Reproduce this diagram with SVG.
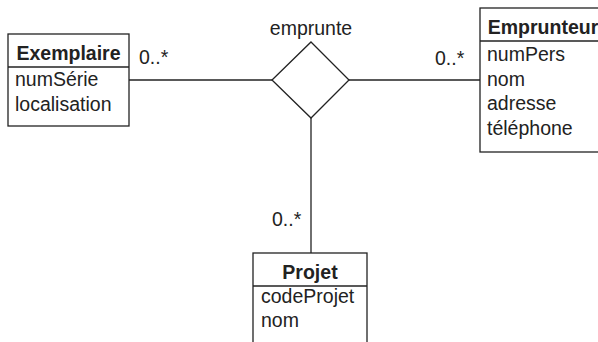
<svg xmlns="http://www.w3.org/2000/svg" width="598" height="342" viewBox="0 0 598 342">
<style>
.box{fill:#fff;stroke:#222;stroke-width:1.3}
.ln{stroke:#222;stroke-width:1.3;fill:none}
text{font-family:"Liberation Sans",Arial,sans-serif;font-size:19.5px;fill:#222}
.h{font-weight:bold;text-anchor:middle}
.m{text-anchor:middle}
</style>
<rect width="598" height="342" fill="#fff"/>
<g id="connectors">
<line class="ln" x1="129" y1="80" x2="272" y2="80"/>
<line class="ln" x1="349" y1="80" x2="480" y2="80"/>
<line class="ln" x1="311" y1="118" x2="311" y2="253"/>
<text x="139" y="64">0..*</text>
<text x="435" y="65">0..*</text>
<text x="272" y="226">0..*</text>
</g>
<g id="emprunte">
<polygon class="box" points="311,42 349,80 311,118 272,80"/>
<text class="m" x="311" y="35">emprunte</text>
</g>
<g id="Exemplaire">
<rect class="box" x="8" y="34" width="121" height="92"/>
<line class="ln" x1="8" y1="67" x2="129" y2="67"/>
<text class="h" x="68.5" y="60">Exemplaire</text>
<text x="15" y="86">numSérie</text>
<text x="15" y="111">localisation</text>
</g>
<g id="Emprunteur">
<rect class="box" x="480" y="8" width="126" height="144"/>
<line class="ln" x1="480" y1="41" x2="606" y2="41"/>
<text class="h" x="543" y="34">Emprunteur</text>
<text x="487" y="61">numPers</text>
<text x="487" y="86">nom</text>
<text x="487" y="110">adresse</text>
<text x="487" y="135">téléphone</text>
</g>
<g id="Projet">
<rect class="box" x="253" y="253" width="114" height="100"/>
<line class="ln" x1="253" y1="286" x2="367" y2="286"/>
<text class="h" x="310" y="279">Projet</text>
<text x="261" y="303">codeProjet</text>
<text x="261" y="327">nom</text>
</g>
</svg>
